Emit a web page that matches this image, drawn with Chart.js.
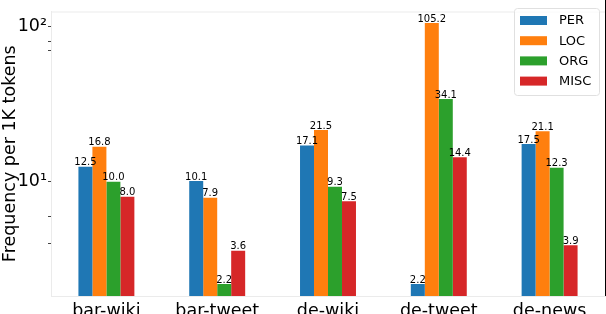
<!DOCTYPE html>
<html>
<head>
<meta charset="utf-8">
<script src="https://cdn.jsdelivr.net/npm/chart.js@4/dist/chart.umd.min.js"></script>
<style>
  html, body { margin: 0; padding: 0; background: #fff; }
  #wrap { width: 606px; height: 314px; }
</style>
</head>
<body>
<div id="wrap"><canvas id="grafica"></canvas></div>
<script>
// datos
const categorias = ['bar-wiki', 'bar-tweet', 'de-wiki', 'de-tweet', 'de-news'];
const valoresPER  = [12.5, 10.1, 17.1, 2.2, 17.5];
const valoresLOC  = [16.8, 7.9, 21.5, 105.2, 21.1];
const valoresORG  = [10.0, 2.2, 9.3, 34.1, 12.3];
const valoresMISC = [8.0, 3.6, 7.5, 14.4, 3.9];
const ticksY = [4, 6, 10, 70, 80, 100];
const etiquetasY = { 10: '10\u00b9', 100: '10\u00b2' };

const fuente = 'DejaVu Sans';

// etiquetas de valor encima de cada barra
const etiquetasBarras = {
  id: 'etiquetasBarras',
  afterDatasetsDraw(chart) {
    const ctx = chart.ctx;
    ctx.save();
    ctx.font = '10px "' + fuente + '"';
    ctx.fillStyle = '#000';
    ctx.textAlign = 'center';
    ctx.textBaseline = 'bottom';
    chart.data.datasets.forEach((ds, i) => {
      chart.getDatasetMeta(i).data.forEach((bar, j) => {
        ctx.fillText(ds.data[j].toFixed(1), bar.x, bar.y + 1);
      });
    });
    ctx.restore();
  }
};

// bordes del area y leyenda dentro del grafico
const marcoYLeyenda = {
  id: 'marcoYLeyenda',
  afterDraw(chart) {
    const ctx = chart.ctx;
    const a = chart.chartArea;
    ctx.save();
    ctx.strokeStyle = '#ebebeb';
    ctx.lineWidth = 1;
    ctx.beginPath();
    ctx.moveTo(a.left, a.top + 0.5);
    ctx.lineTo(a.right, a.top + 0.5);
    ctx.stroke();
    ctx.strokeStyle = '#000';
    ctx.beginPath();
    ctx.moveTo(605.5, 0);
    ctx.lineTo(605.5, a.bottom);
    ctx.stroke();

    // leyenda
    const x0 = 514, y0 = 8, w = 85, h = 87;
    ctx.fillStyle = 'rgba(255,255,255,0.8)';
    ctx.strokeStyle = '#e0e0e0';
    ctx.beginPath();
    ctx.roundRect(x0 + 0.5, y0 + 0.5, w, h, 3);
    ctx.fill();
    ctx.stroke();
    ctx.font = '13px "' + fuente + '"';
    ctx.textAlign = 'left';
    ctx.textBaseline = 'middle';
    chart.data.datasets.forEach((ds, i) => {
      const cy = 20.5 + i * 20.2;
      ctx.fillStyle = ds.backgroundColor;
      ctx.fillRect(520, cy - 4.5, 27, 9);
      ctx.fillStyle = '#000';
      ctx.fillText(ds.label, 559, cy + 0.5);
    });
    ctx.restore();
  }
};

const ctx = document.getElementById('grafica').getContext('2d');
const miGrafica = new Chart(ctx, {
  type: 'bar',
  data: {
    labels: categorias,
    datasets: [
      { label: 'PER',  data: valoresPER,  backgroundColor: '#1f77b4' },
      { label: 'LOC',  data: valoresLOC,  backgroundColor: '#ff7f0e' },
      { label: 'ORG',  data: valoresORG,  backgroundColor: '#2ca02c' },
      { label: 'MISC', data: valoresMISC, backgroundColor: '#d62728' }
    ]
  },
  options: {
    responsive: true,
    maintainAspectRatio: false,
    animation: false,
    layout: { padding: { top: 3, right: 1, left: 0, bottom: 0 } },
    datasets: { bar: { categoryPercentage: 0.505, barPercentage: 1.0 } },
    plugins: {
      legend: { display: false },
      tooltip: { enabled: false }
    },
    scales: {
      x: {
        grid: { display: false, drawTicks: false },
        border: { color: '#ebebeb', width: 1 },
        ticks: {
          color: '#000',
          font: { family: fuente, size: 17.5 },
          padding: 5,
          maxRotation: 0,
          autoSkip: false
        },
        afterFit(scale) { scale.height = 18; }
      },
      y: {
        type: 'logarithmic',
        min: 1.84,
        max: 124.6,
        afterBuildTicks(scale) {
          scale.ticks = ticksY.map(v => ({ value: v }));
        },
        grid: { drawOnChartArea: false, drawTicks: true, tickLength: 3, tickColor: '#444' },
        border: { color: '#ebebeb', width: 1 },
        ticks: {
          color: '#000',
          font: { family: fuente, size: 17.5 },
          padding: 1,
          autoSkip: false,
          callback: v => etiquetasY[v] || ''
        },
        title: {
          display: true,
          text: 'Frequency per 1K tokens',
          color: '#000',
          font: { family: fuente, size: 17.5 },
          padding: 0
        },
        afterFit(scale) { scale.width = 51; }
      }
    }
  },
  plugins: [etiquetasBarras, marcoYLeyenda]
});
</script>
</body>
</html>
